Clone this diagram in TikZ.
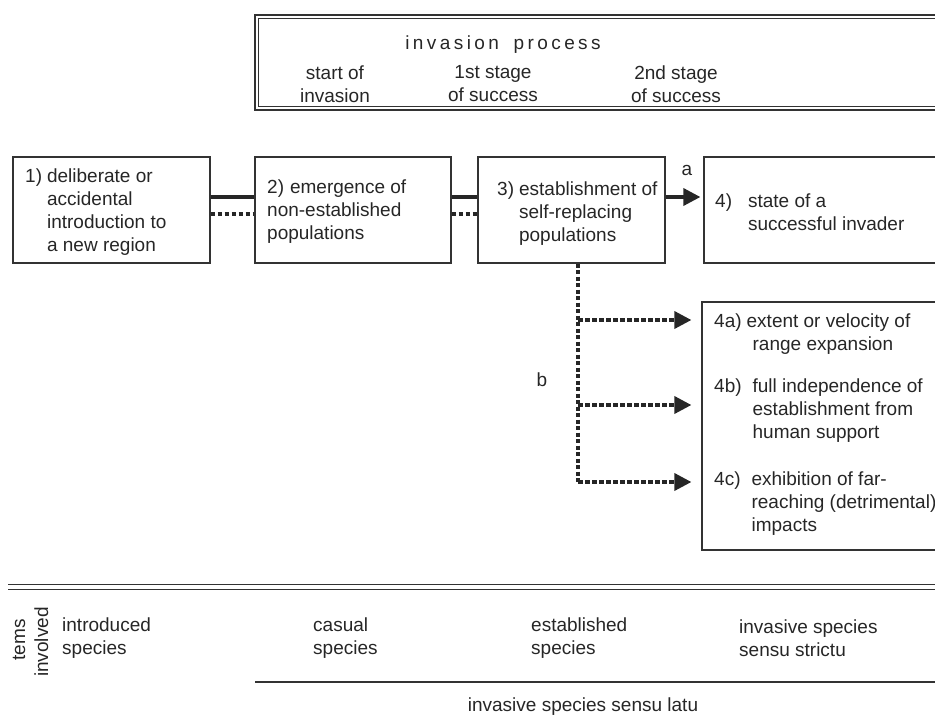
\documentclass[tikz,border=0pt]{standalone}
\usepackage{fontspec}
\setmainfont{Liberation Sans}
\newfontfamily\spacedfont{Liberation Sans}[LetterSpace=18]
\usetikzlibrary{arrows.meta}
\definecolor{ink}{HTML}{333333}
\definecolor{txt}{HTML}{262626}
\begin{document}
\begin{tikzpicture}[x=1pt,y=-1pt,
  every node/.style={text=txt, font=\fontsize{19}{23}\selectfont},
  box/.style={draw=ink, line width=1.2pt, inner sep=0pt},
  lbl/.style={inner sep=0pt, align=left, anchor=west},
  rot/.style={inner sep=0pt, rotate=90, anchor=base},
  solidlink/.style={draw=black!85, line width=3.5pt},
  dotlink/.style={draw=black!85, line width=3.5pt, dash pattern=on 4.5pt off 2.5pt},
  vdot/.style={draw=black!85, line width=3.5pt, dash pattern=on 4pt off 2.5pt},
  tip/.style={-{Triangle[length=17pt,width=17pt]}},
  rule/.style={draw=ink}
]
\useasboundingbox (0,0) rectangle (935,720);
\clip (0,0) rectangle (935,720);

% header box (double frame)
\node[box, line width=1.6pt, minimum width=720pt, minimum height=95pt] (head) at (615,62.5) {};
\node[draw=ink, line width=0.8pt, inner sep=0pt, minimum width=713pt, minimum height=88pt] (headin) at (615,62.5) {};
\node (proc) at (503,45) {\spacedfont invasion\hspace{6pt} process};
\node[align=center] (s0) at (335,84) {start of\\invasion};
\node[align=center] (s1) at (493,84) {1st stage\\of success};
\node[align=center] (s2) at (676,84) {2nd stage\\of success};

% boxes
\node[box, minimum width=197pt, minimum height=106pt] (b1) at (111.5,210) {};
\node[box, minimum width=196pt, minimum height=106pt] (b2) at (353,210) {};
\node[box, minimum width=187pt, minimum height=106pt] (b3) at (571.5,210) {};
\node[box, minimum width=256pt, minimum height=106pt] (b4) at (832,210) {};
\node[box, minimum width=258pt, minimum height=248pt] (b5) at (831,426) {};

\node[lbl] (t1) at (25,212) {\begin{tabular}{@{}l@{\hspace{5pt}}l@{}}1)&deliberate or\\&accidental\\&introduction to\\&a new region\end{tabular}};
\node[lbl] (t2) at (267,212) {\begin{tabular}{@{}l@{}}2)\hspace{6pt}emergence of\\non-established\\populations\end{tabular}};
\node[lbl] (t3) at (497,214) {\begin{tabular}{@{}l@{\hspace{5pt}}l@{}}3)&establishment of\\&self-replacing\\&populations\end{tabular}};
\node[lbl] (t4) at (715,214) {\begin{tabular}{@{}l@{\hspace{16pt}}l@{}}4)&state of a\\&successful invader\end{tabular}};
\node[lbl] (t5a) at (714,334) {\begin{tabular}{@{}l@{\hspace{11pt}}l@{}}4a)&\hspace{-6pt}extent or velocity of\\&range expansion\end{tabular}};
\node[lbl] (t5b) at (714,411) {\begin{tabular}{@{}l@{\hspace{11pt}}l@{}}4b)&full independence of\\&establishment from\\&human support\end{tabular}};
\node[lbl] (t5c) at (714,504) {\begin{tabular}{@{}l@{\hspace{11pt}}l@{}}4c)&exhibition of far-\\&reaching (detrimental)\\&impacts\end{tabular}};

% connectors between boxes
\draw[solidlink] ([yshift=13pt]b1.east) -- ([yshift=13pt]b2.west);
\draw[dotlink] ([yshift=-4pt]b1.east) -- ([yshift=-4pt]b2.west);
\draw[solidlink] ([yshift=13pt]b2.east) -- ([yshift=13pt]b3.west);
\draw[dotlink] ([yshift=-4pt]b2.east) -- ([yshift=-4pt]b3.west);
\draw[solidlink, tip, shorten >=3pt] ([yshift=13pt]b3.east) -- ([yshift=13pt]b4.west);
\node (la) at (687,170) {a};

% branch b
\coordinate (vtop) at ([xshift=6.5pt]b3.south);
\coordinate (ja) at (578,320);
\coordinate (jb) at (578,405);
\coordinate (jc) at (578,482);
\draw[vdot] (vtop) -- (jc);
\draw[dotlink, tip, shorten >=10pt] (ja) -- (b5.west |- ja);
\draw[dotlink, tip, shorten >=10pt] (jb) -- (b5.west |- jb);
\draw[dotlink, tip, shorten >=10pt] (jc) -- (b5.west |- jc);
\node (lb) at (542,380) {b};

% bottom section
\coordinate (r1l) at (8,584.5);
\coordinate (r1r) at (935,584.5);
\coordinate (r2l) at (8,589);
\coordinate (r2r) at (935,589);
\draw[rule, line width=1.6pt] (r1l) -- (r1r);
\draw[rule, line width=0.9pt] (r2l) -- (r2r);
\node[rot] (tems) at (25,640) {tems};
\node[rot] (invol) at (48,642) {involved};
\node[lbl] (intro) at (62,638) {introduced\\species};
\node[lbl] (casual) at (313,638) {casual\\species};
\node[lbl] (estab) at (531,638) {established\\species};
\node[lbl] (invss) at (739,638) {invasive species\\sensu strictu};
\coordinate (r3l) at (255,682);
\coordinate (r3r) at (935,682);
\draw[rule, line width=1.3pt] (r3l) -- (r3r);
\node (latu) at (583,707) {invasive species sensu latu};
\end{tikzpicture}
\end{document}
